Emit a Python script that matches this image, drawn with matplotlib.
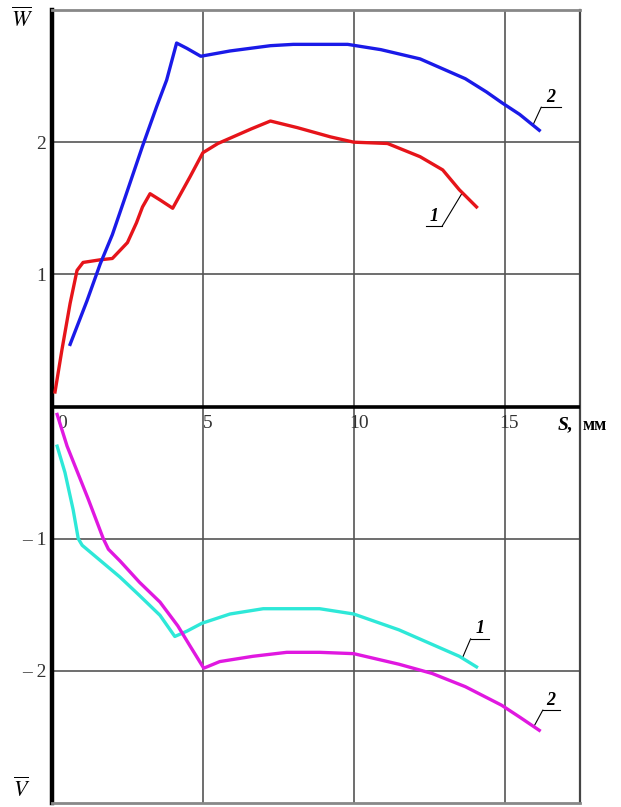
import matplotlib.pyplot as plt
import numpy as np
from matplotlib.transforms import offset_copy

plt.rcParams["font.family"] = ["Liberation Serif", "DejaVu Serif"]
plt.rcParams["mathtext.fontset"] = "stix"

# Curve 1 (upper, W): red
s_w1 = [0.1, 0.33, 0.6, 0.83, 1.03, 1.6, 2.0, 2.5, 2.8, 3.0, 3.25, 3.6, 4.0,
        4.58, 5.0, 5.5, 5.9, 6.6, 7.24, 8.13, 9.23, 10.0, 11.12, 12.2, 12.95, 13.5, 14.07]
w1 = [0.11, 0.43, 0.78, 1.03, 1.09, 1.11, 1.12, 1.24, 1.39, 1.51, 1.61, 1.56, 1.50,
      1.74, 1.92, 1.99, 2.03, 2.10, 2.16, 2.11, 2.04, 2.00, 1.99, 1.89, 1.79, 1.64, 1.51]

# Curve 2 (upper, W): blue
s_w2 = [0.6, 1.16, 1.6, 2.0, 2.42, 3.0, 3.47, 3.8, 4.0, 4.13, 4.47, 4.93, 5.9,
        7.24, 8.0, 9.8, 10.9, 12.2, 13.7, 14.4, 14.9, 15.5, 16.15]
w2 = [0.47, 0.80, 1.08, 1.30, 1.58, 1.97, 2.27, 2.47, 2.64, 2.75, 2.71, 2.65, 2.69,
      2.73, 2.74, 2.74, 2.70, 2.63, 2.48, 2.38, 2.30, 2.21, 2.09]

# Curve 1 (lower, V): cyan
s_v1 = [0.17, 0.43, 0.7, 0.87, 1.0, 2.25, 2.9, 3.58, 4.07, 4.47, 4.97, 5.9, 7.0,
        8.87, 10.0, 11.5, 12.6, 13.5, 14.07]
v1 = [-0.30, -0.50, -0.78, -1.00, -1.05, -1.29, -1.43, -1.58, -1.74, -1.70, -1.64,
      -1.57, -1.53, -1.53, -1.57, -1.69, -1.80, -1.89, -1.97]

# Curve 2 (lower, V): magenta
s_v2 = [0.17, 0.5, 1.2, 1.7, 1.87, 2.26, 2.9, 3.58, 4.17, 4.57, 5.03, 5.56, 6.66,
        7.78, 8.87, 10.0, 11.5, 12.6, 13.7, 14.9, 15.5, 16.15]
v2 = [-0.06, -0.30, -0.70, -1.00, -1.08, -1.17, -1.33, -1.48, -1.66, -1.81, -1.98,
      -1.93, -1.89, -1.86, -1.86, -1.87, -1.95, -2.02, -2.12, -2.26, -2.35, -2.45]

x_ticks = [5, 10, 15]
x_tick_labels = ["5", "10", "15"]
y_ticks = [-2, -1, 1, 2]
y_tick_labels = ["\u2013 2", "\u2013 1", "1", "2"]

fig = plt.figure(figsize=(6.21, 8.07), dpi=100)
ax = fig.add_axes([52 / 621, 4 / 807, 528 / 621, 793 / 807])
ax.set_xlim(0, 17.5)
ax.set_ylim(-3, 3)

# grid and frame
ax.set_xticks(x_ticks)
ax.set_xticklabels([])
ax.set_yticks(y_ticks)
ax.set_yticklabels(y_tick_labels, fontsize=14, color="#333333")
ax.tick_params(length=0, axis="both")
ax.tick_params(axis="y", pad=4)
ax.grid(True, color="#555555", lw=1.2)
ax.axhline(0, color="black", lw=2.6, zorder=3)
ax.spines["left"].set_color("black")
ax.spines["left"].set_linewidth(3.2)
ax.spines["top"].set_color("#888888")
ax.spines["top"].set_linewidth(2)
ax.spines["right"].set_color("#444444")
ax.spines["right"].set_linewidth(1.6)
ax.spines["bottom"].set_color("#888888")
ax.spines["bottom"].set_linewidth(2)

# curves
lw = 2.4
ax.plot(s_w1, w1, color="#e6141a", lw=lw, zorder=4, solid_joinstyle="round")
ax.plot(s_w2, w2, color="#1a1ae8", lw=lw, zorder=4, solid_joinstyle="round")
ax.plot(s_v1, v1, color="#2ee8d8", lw=lw, zorder=4, solid_joinstyle="round")
ax.plot(s_v2, v2, color="#e018e0", lw=lw, zorder=4, solid_joinstyle="round")

# x tick labels sit on the zero line
ax.annotate("0", xy=(0, 0), xytext=(7.5, -6), textcoords="offset points",
            ha="center", va="top", fontsize=14, color="#333333")
for xt, lab in zip(x_ticks, x_tick_labels):
    ax.annotate(lab, xy=(xt, 0), xytext=(3.5, -6), textcoords="offset points",
                ha="center", va="top", fontsize=14, color="#333333")

label_y = (807 - 425 - 4) / 793
ax.text(0.958, label_y, "S,", transform=ax.transAxes, fontsize=14,
        fontstyle="italic", fontweight="bold", ha="left", va="center")
ax.text(1.005, label_y, "мм", transform=ax.transAxes, fontsize=13,
        fontweight="bold", ha="left", va="center", clip_on=False)

# axis names
fig.text(22 / 621, 1 - 20 / 807, r"$\overline{W}$", fontsize=16, ha="center", va="center")
fig.text(22 / 621, 1 - 790 / 807, r"$\overline{V}$", fontsize=16, ha="center", va="center")


def leader(xs, ys, at, elbow, run, label):
    """Numbered callout: slanted stroke off the curve, short underline, label on it."""
    y_at = np.interp(at, xs, ys)
    ex, ey = elbow
    ax.annotate("", xy=(at, y_at), xytext=(ex, ey), textcoords="offset points",
                arrowprops=dict(arrowstyle="-", lw=0.8, color="black",
                                shrinkA=0, shrinkB=0))
    x0, x1 = sorted([ex, ex + run])
    p0 = offset_copy(ax.transData, fig=fig, x=x0, y=ey, units="points").transform((at, y_at))
    p1 = offset_copy(ax.transData, fig=fig, x=x1, y=ey, units="points").transform((at, y_at))
    fig.add_artist(plt.Line2D([p0[0], p1[0]], [p0[1], p1[1]], transform=None,
                              lw=0.8, color="black"))
    ax.annotate(label, xy=(at, y_at), xytext=((x0 + x1) / 2, ey + 1),
                textcoords="offset points", ha="center", va="bottom",
                fontsize=13, fontstyle="italic", fontweight="bold")


leader(s_w2, w2, 15.94, (6, 13), 14, "2")
leader(s_w1, w1, 13.6, (-14.5, -24), -12, "1")
leader(s_v1, v1, 13.6, (6, 14), 13, "1")
leader(s_v2, v2, 15.97, (6.5, 12), 12, "2")

fig.savefig("out.png", dpi=100)
